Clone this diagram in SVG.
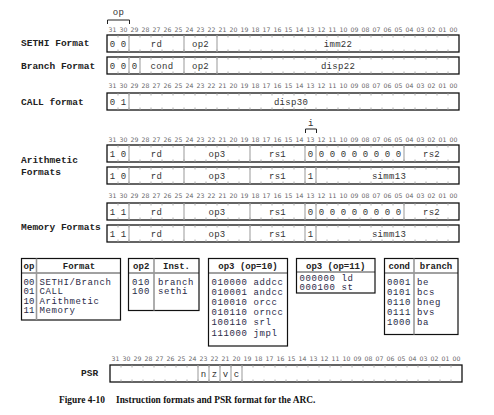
<svg xmlns="http://www.w3.org/2000/svg" xmlns:xlink="http://www.w3.org/1999/xlink" width="494" height="415" viewBox="0 0 494 415">
<style>
.bn{font-family:"DejaVu Sans",sans-serif;font-size:6.2px;fill:#666;text-anchor:middle}
.lbl{font-family:"Liberation Mono",monospace;font-weight:bold;font-size:9.5px;fill:#222}
.f{font-family:"Liberation Mono",monospace;font-size:9px;fill:#333;text-anchor:middle;letter-spacing:0.3px}
.box{fill:#fff;stroke:#111;stroke-width:1.3}
.sep{stroke:#999;stroke-width:1}
.tk{fill:none;stroke:#999;stroke-width:0.8}
.br{fill:none;stroke:#222;stroke-width:1}
.tb{fill:#fff;stroke:#111;stroke-width:1.2}
.hl{stroke:#111;stroke-width:0.8}
.dv{stroke:#999;stroke-width:1.6}
.th{font-family:"Liberation Mono",monospace;font-weight:bold;font-size:9px;fill:#222;text-anchor:middle}
.td{font-family:"Liberation Mono",monospace;font-size:9px;fill:#2a2a48;letter-spacing:0.6px}
.tn{font-family:"Liberation Mono",monospace;font-size:9px;fill:#2a2a48}
.cap{font-family:"Liberation Serif",serif;font-weight:bold;font-size:9.4px;fill:#111}
</style>
<defs>
<path id="ticks" class="tk" d="M11 0v2.5m0 12v2.5M22 0v2.5m0 12v2.5M33 0v2.5m0 12v2.5M44 0v2.5m0 12v2.5M55 0v2.5m0 12v2.5M66 0v2.5m0 12v2.5M77 0v2.5m0 12v2.5M88 0v2.5m0 12v2.5M99 0v2.5m0 12v2.5M110 0v2.5m0 12v2.5M121 0v2.5m0 12v2.5M132 0v2.5m0 12v2.5M143 0v2.5m0 12v2.5M154 0v2.5m0 12v2.5M165 0v2.5m0 12v2.5M176 0v2.5m0 12v2.5M187 0v2.5m0 12v2.5M198 0v2.5m0 12v2.5M209 0v2.5m0 12v2.5M220 0v2.5m0 12v2.5M231 0v2.5m0 12v2.5M242 0v2.5m0 12v2.5M253 0v2.5m0 12v2.5M264 0v2.5m0 12v2.5M275 0v2.5m0 12v2.5M286 0v2.5m0 12v2.5M297 0v2.5m0 12v2.5M308 0v2.5m0 12v2.5M319 0v2.5m0 12v2.5M330 0v2.5m0 12v2.5M341 0v2.5m0 12v2.5"/>
<g id="bits" class="bn">
<text x="5.5">31</text><text x="16.5">30</text><text x="27.5">29</text><text x="38.5">28</text><text x="49.5">27</text><text x="60.5">26</text><text x="71.5">25</text><text x="82.5">24</text><text x="93.5">23</text><text x="104.5">22</text><text x="115.5">21</text><text x="126.5">20</text><text x="137.5">19</text><text x="148.5">18</text><text x="159.5">17</text><text x="170.5">16</text><text x="181.5">15</text><text x="192.5">14</text><text x="203.5">13</text><text x="214.5">12</text><text x="225.5">11</text><text x="236.5">10</text><text x="247.5">09</text><text x="258.5">08</text><text x="269.5">07</text><text x="280.5">06</text><text x="291.5">05</text><text x="302.5">04</text><text x="313.5">03</text><text x="324.5">02</text><text x="335.5">01</text><text x="346.5">00</text>
</g>
</defs>
<rect width="494" height="415" fill="#fff"/>

<!-- bit number rows -->
<use xlink:href="#bits" x="107" y="31.8"/>
<use xlink:href="#bits" x="107" y="88"/>
<use xlink:href="#bits" x="107" y="141.6"/>
<use xlink:href="#bits" x="107" y="198"/>
<use xlink:href="#bits" x="110" y="361.3"/>

<!-- labels on left -->
<g id="labels">
<text class="lbl" x="21" y="46">SETHI Format</text>
<text class="lbl" x="21" y="68.5">Branch Format</text>
<text class="lbl" x="21" y="105">CALL format</text>
<text class="lbl" x="21" y="163">Arithmetic</text>
<text class="lbl" x="21" y="174.5">Formats</text>
<text class="lbl" x="21" y="229.5">Memory Formats</text>
<text class="lbl" x="81" y="376">PSR</text>
</g>

<!-- op and i brackets -->
<g id="op-bracket">
<text class="f" x="118.5" y="14.5">op</text>
<path class="br" d="M107.5 24V20H129.5V24"/>
</g>
<g id="i-bracket">
<text class="f" x="310.8" y="125.5">i</text>
<path class="br" d="M305.5 133V129H316.5V133"/>
</g>

<g id="sethi">
<rect class="box" x="107" y="35" width="352" height="17"/>
<use xlink:href="#ticks" x="107" y="35"/>
<path class="sep" d="M129 35V52M184 35V52M217 35V52"/>
<text class="f" x="112.5" y="46.5">0</text><text class="f" x="123.5" y="46.5">0</text>
<text class="f" x="156.5" y="46.5">rd</text><text class="f" x="200.5" y="46.5">op2</text><text class="f" x="338" y="46.5">imm22</text>
</g>

<g id="branch">
<rect class="box" x="107" y="57" width="352" height="17"/>
<use xlink:href="#ticks" x="107" y="57"/>
<path class="sep" d="M129 57V74M140 57V74M184 57V74M217 57V74"/>
<text class="f" x="112.5" y="68.5">0</text><text class="f" x="123.5" y="68.5">0</text><text class="f" x="134.5" y="68.5">0</text>
<text class="f" x="162" y="68.5">cond</text><text class="f" x="200.5" y="68.5">op2</text><text class="f" x="338" y="68.5">disp22</text>
</g>

<g id="call">
<rect class="box" x="107" y="93" width="352" height="17"/>
<use xlink:href="#ticks" x="107" y="93"/>
<path class="sep" d="M129 93V110"/>
<text class="f" x="112.5" y="104.5">0</text><text class="f" x="123.5" y="104.5">1</text>
<text class="f" x="291" y="104.5">disp30</text>
</g>

<g id="arith1">
<rect class="box" x="107" y="145" width="352" height="17"/>
<use xlink:href="#ticks" x="107" y="145"/>
<path class="sep" d="M129 145V162M184 145V162M250 145V162M305 145V162M316 145V162M404 145V162"/>
<text class="f" x="112.5" y="156.5">1</text><text class="f" x="123.5" y="156.5">0</text>
<text class="f" x="156.5" y="156.5">rd</text><text class="f" x="217" y="156.5">op3</text><text class="f" x="277.5" y="156.5">rs1</text>
<text class="f" x="310.5" y="156.5">0</text>
<text class="f" x="321.5" y="156.5">0</text><text class="f" x="332.5" y="156.5">0</text><text class="f" x="343.5" y="156.5">0</text><text class="f" x="354.5" y="156.5">0</text><text class="f" x="365.5" y="156.5">0</text><text class="f" x="376.5" y="156.5">0</text><text class="f" x="387.5" y="156.5">0</text><text class="f" x="398.5" y="156.5">0</text>
<text class="f" x="431.5" y="156.5">rs2</text>
</g>

<g id="arith2">
<rect class="box" x="107" y="167" width="352" height="17"/>
<use xlink:href="#ticks" x="107" y="167"/>
<path class="sep" d="M129 167V184M184 167V184M250 167V184M305 167V184M316 167V184"/>
<text class="f" x="112.5" y="178.5">1</text><text class="f" x="123.5" y="178.5">0</text>
<text class="f" x="156.5" y="178.5">rd</text><text class="f" x="217" y="178.5">op3</text><text class="f" x="277.5" y="178.5">rs1</text>
<text class="f" x="310.5" y="178.5">1</text>
<text class="f" x="389" y="178.5">simm13</text>
</g>

<g id="mem1">
<rect class="box" x="107" y="203" width="352" height="17"/>
<use xlink:href="#ticks" x="107" y="203"/>
<path class="sep" d="M129 203V220M184 203V220M250 203V220M305 203V220M316 203V220M404 203V220"/>
<text class="f" x="112.5" y="214.5">1</text><text class="f" x="123.5" y="214.5">1</text>
<text class="f" x="156.5" y="214.5">rd</text><text class="f" x="217" y="214.5">op3</text><text class="f" x="277.5" y="214.5">rs1</text>
<text class="f" x="310.5" y="214.5">0</text>
<text class="f" x="321.5" y="214.5">0</text><text class="f" x="332.5" y="214.5">0</text><text class="f" x="343.5" y="214.5">0</text><text class="f" x="354.5" y="214.5">0</text><text class="f" x="365.5" y="214.5">0</text><text class="f" x="376.5" y="214.5">0</text><text class="f" x="387.5" y="214.5">0</text><text class="f" x="398.5" y="214.5">0</text>
<text class="f" x="431.5" y="214.5">rs2</text>
</g>

<g id="mem2">
<rect class="box" x="107" y="225" width="352" height="17"/>
<use xlink:href="#ticks" x="107" y="225"/>
<path class="sep" d="M129 225V242M184 225V242M250 225V242M305 225V242M316 225V242"/>
<text class="f" x="112.5" y="236.5">1</text><text class="f" x="123.5" y="236.5">1</text>
<text class="f" x="156.5" y="236.5">rd</text><text class="f" x="217" y="236.5">op3</text><text class="f" x="277.5" y="236.5">rs1</text>
<text class="f" x="310.5" y="236.5">1</text>
<text class="f" x="389" y="236.5">simm13</text>
</g>

<g id="table-op">
<rect class="tb" x="21.5" y="258.5" width="99" height="61.5"/>
<path class="hl" d="M21.5 273H120.5"/>
<path class="dv" d="M36.5 258.5V320"/>
<text class="th" x="29" y="268.5">op</text><text class="th" x="79" y="268.5">Format</text>
<text class="tn" x="23.5" y="284.5">00</text><text class="td" x="39.5" y="284.5">SETHI/Branch</text>
<text class="tn" x="23.5" y="294">01</text><text class="td" x="39.5" y="294">CALL</text>
<text class="tn" x="23.5" y="303.5">10</text><text class="td" x="39.5" y="303.5">Arithmetic</text>
<text class="tn" x="23.5" y="313">11</text><text class="td" x="39.5" y="313">Memory</text>
</g>

<g id="table-op2">
<rect class="tb" x="128.5" y="258.5" width="70.5" height="52"/>
<path class="hl" d="M128.5 273H199"/>
<path class="dv" d="M154 258.5V310.5"/>
<text class="th" x="141.2" y="268.5">op2</text><text class="th" x="176.5" y="268.5">Inst.</text>
<text class="td" x="132" y="284.5">010</text><text class="td" x="158" y="284.5">branch</text>
<text class="td" x="132" y="294">100</text><text class="td" x="158" y="294">sethi</text>
</g>

<g id="table-op3-10">
<rect class="tb" x="208.5" y="258.5" width="79" height="87.5"/>
<path class="hl" d="M208.5 273H287.5"/>
<text class="th" x="248" y="268.5">op3 (op=10)</text>
<text class="td" x="211.5" y="284.5">010000 addcc</text>
<text class="td" x="211.5" y="294.7">010001 andcc</text>
<text class="td" x="211.5" y="304.9">010010 orcc</text>
<text class="td" x="211.5" y="315.1">010110 orncc</text>
<text class="td" x="211.5" y="325.3">100110 srl</text>
<text class="td" x="211.5" y="335.5">111000 jmpl</text>
</g>

<g id="table-op3-11">
<rect class="tb" x="296.5" y="258.5" width="78.5" height="34.5"/>
<path class="hl" d="M296.5 272H375"/>
<text class="th" x="335.7" y="268.5">op3 (op=11)</text>
<text class="td" x="299.5" y="280.8">000000 ld</text>
<text class="td" x="299.5" y="289.5">000100 st</text>
</g>

<g id="table-cond">
<rect class="tb" x="384.5" y="258.5" width="73.5" height="76"/>
<path class="hl" d="M384.5 273H458"/>
<path class="dv" d="M414 258.5V334.5"/>
<text class="th" x="399.2" y="268.5">cond</text><text class="th" x="436" y="268.5">branch</text>
<text class="td" x="387" y="284.5">0001</text><text class="td" x="417" y="284.5">be</text>
<text class="td" x="387" y="294.7">0101</text><text class="td" x="417" y="294.7">bcs</text>
<text class="td" x="387" y="304.9">0110</text><text class="td" x="417" y="304.9">bneg</text>
<text class="td" x="387" y="315.1">0111</text><text class="td" x="417" y="315.1">bvs</text>
<text class="td" x="387" y="325.3">1000</text><text class="td" x="417" y="325.3">ba</text>
</g>

<g id="psr">
<rect class="box" x="110" y="365" width="352" height="17"/>
<use xlink:href="#ticks" x="110" y="365"/>
<path class="sep" d="M198 365V382M209 365V382M220 365V382M231 365V382M242 365V382"/>
<text class="f" x="203.5" y="376.5">n</text><text class="f" x="214.5" y="376.5">z</text><text class="f" x="225.5" y="376.5">v</text><text class="f" x="236.5" y="376.5">c</text>
</g>

<text class="cap" x="59" y="403">Figure 4-10</text>
<text class="cap" x="116" y="403">Instruction formats and PSR format for the ARC.</text>
</svg>
